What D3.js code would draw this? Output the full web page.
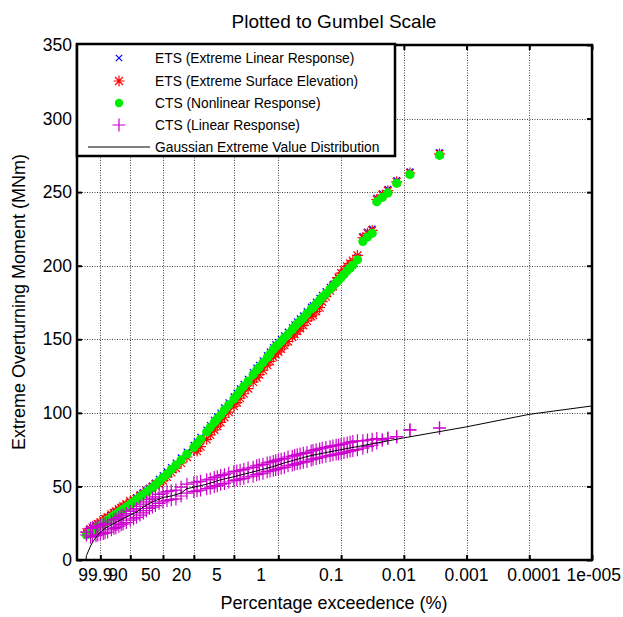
<!DOCTYPE html>
<html>
<head>
<meta charset="utf-8">
<script src="https://cdn.jsdelivr.net/npm/d3@7"></script>
<style>
  body { margin: 0; background: #fff; }
  svg { display: block; font-family: "Liberation Sans", Arial, sans-serif; }
</style>
</head>
<body>
<div id="chart"></div>
<script>
// exceedance probability (%) of the ranked samples, shared by the sample series
var exceedPct = [99.999, 99.995, 99.99, 99.97, 99.95, 99.9, 99.8, 99.7, 99.5, 99,
  98.5, 98, 97, 96, 95, 93, 90, 87, 84, 80,
  76, 72, 68, 64, 60, 55, 50, 45, 40, 35,
  30, 25, 20, 18, 16, 13, 11.5, 10, 9, 8,
  7, 6, 5, 4.5, 4, 3.5, 3, 2.5, 2.2, 2,
  1.75, 1.5, 1.35, 1.2, 1.1, 1, 0.9, 0.8, 0.7, 0.6,
  0.55, 0.5, 0.45, 0.4, 0.35, 0.3, 0.28, 0.25, 0.22, 0.2,
  0.175, 0.15, 0.135, 0.12, 0.11, 0.1, 0.09, 0.08, 0.072, 0.065,
  0.055, 0.045, 0.038, 0.032, 0.027, 0.022, 0.018, 0.013, 0.008, 0.0027];

// overturning moment (MNm)
var etsLinear = [18.5, 20.5, 21.5, 23, 24, 25, 26.5, 27.5, 28.5, 30.5,
  31.5, 32.5, 34, 35, 36, 37.5, 39.5, 41, 42.5, 44.5,
  46, 47.5, 49, 50.5, 52.5, 55, 57.5, 60, 63, 66,
  69.5, 73.5, 78, 80.5, 83.5, 88.5, 91.5, 95, 97.5, 100,
  103.5, 107, 111, 113.5, 116.5, 119.5, 123, 127.5, 130.5, 132.5,
  135.5, 139, 141.5, 144.5, 146.5, 148, 150, 152.5, 155, 158,
  160, 162, 164, 166, 169, 172, 173, 175.5, 178, 180,
  182.5, 185.5, 187.5, 190, 191.5, 193.5, 195.5, 198, 200, 202,
  205.5, 220, 223, 225, 246, 249, 252, 258, 264, 277];

var etsSurface = [19, 21, 22, 23.5, 24.5, 25.5, 27, 28, 29, 31,
  32, 33, 34.5, 35.5, 36.5, 38, 40, 40, 41.5, 43.5,
  45, 46.5, 48, 49.5, 51.5, 51.5, 54, 56.5, 59.5, 62.5,
  66, 70, 74.5, 74, 77, 82, 85, 88.5, 91, 93.5,
  97, 100.5, 104.5, 107, 110, 113, 116.5, 121, 124, 126,
  129, 132.5, 135, 138, 140, 141.5, 143.5, 146, 148.5, 151.5,
  153.5, 155.5, 157.5, 159.5, 162.5, 165.5, 166.5, 169, 171.5, 175.5,
  179, 183, 186, 189.5, 192, 195, 197, 199.5, 201.5, 203.5,
  207, 219, 222, 224, 245, 248, 251, 257, 263, 276];

var ctsNonlinear = [17, 19, 20, 21.5, 22.5, 23.5, 25, 26, 27, 29,
  30, 31, 32.5, 33.5, 34.5, 36, 38, 39.5, 41, 43,
  44.5, 46, 47.5, 49, 51, 53.5, 56, 58.5, 61.5, 64.5,
  68, 72, 76.5, 79, 82, 87, 90, 93.5, 96, 98.5,
  102, 105.5, 109.5, 112, 115, 118, 121.5, 126, 129, 131,
  134, 137.5, 140, 143, 145, 146.5, 148.5, 151, 153.5, 156.5,
  158.5, 160.5, 162.5, 164.5, 167.5, 170.5, 171.5, 174, 176.5, 178.5,
  181, 184, 186, 188.5, 190, 192, 194, 196.5, 198.5, 200.5,
  204, 216.5, 219.5, 222, 243.5, 246.5, 249.5, 256, 262, 275];

// CTS linear response: upper and lower edge of the sample cloud
var ctsLinearA = [19, 21.5, 22, 22.5, 23, 23.5, 24, 24.5, 25, 26.5,
  27.5, 28, 29, 30, 30.5, 31.5, 33, 34, 35, 36.5,
  38, 39.5, 41, 42, 43, 44.5, 45.5, 46.5, 47, 47.5,
  49.5, 51.5, 52.5, 53, 53.5, 54.5, 55, 56, 56.5, 57.5,
  58, 59, 60, 60.5, 61, 61.5, 62.5, 63, 64, 64.5,
  65, 66, 66.5, 67, 67.5, 68, 68.5, 69, 70, 70.5,
  71, 71.5, 72, 72.5, 73, 74, 74.5, 75, 75.5, 76,
  76.5, 77, 77.5, 78, 78, 78.5, 79, 79.5, 80, 80.5,
  81, 81, 81.5, 82, 82.5, 81.6, 82.7, 83.8, 88.4, 89.7];
var ctsLinearB = [17, 15.5, 16, 16.5, 17, 17.5, 18, 18.5, 19, 20.5,
  21.5, 22, 23, 24, 24.5, 25.5, 27, 28, 29, 30.5,
  32, 33.5, 35, 36, 37, 38.5, 39.5, 40.5, 41, 41.5,
  43.5, 45.5, 46.5, 47, 47.5, 48.5, 49, 50, 50.5, 51.5,
  52, 53, 54, 54.5, 55, 55.5, 56.5, 57, 58, 58.5,
  59, 60, 60.5, 61, 61.5, 62, 62.5, 63, 64, 64.5,
  65, 65.5, 66, 66.5, 67, 68, 68.5, 69, 69.5, 70,
  70.5, 71, 71.5, 72, 72, 72.5, 73, 73.5, 74, 74.5,
  75, 76, 77, 78, 79.5, 81.6, 82.7, 83.8, 88.4, 89.7];

// fitted Gaussian extreme value distribution
var gevExceed = [99.9992, 99.999, 99.995, 99.99, 99.97, 99.9, 99.7, 99, 98, 95,
  90, 84, 76, 64, 50, 40, 30, 25, 20, 13,
  8, 5, 3, 2, 1.2, 1, 0.8, 0.5, 0.3, 0.2,
  0.1, 0.01, 0.001, 0.0001, 0.00001];
var gevMoment = [0, 3, 9.5, 12, 15.5, 19, 21.5, 24, 25.5, 28,
  30.5, 32.5, 36, 39.5, 42.5, 43.5, 45.5, 48.5, 49.5, 51.5,
  54.5, 56.6, 59, 61, 63.5, 64.6, 66, 68.5, 71, 72.5,
  75, 83, 90.5, 99, 104.7];

var xTickPct = [99.9, 90, 50, 20, 5, 1, 0.1, 0.01, 0.001, 0.0001, 0.00001];
var xTickLabels = ["99.9", "90", "50", "20", "5", "1", "0.1", "0.01", "0.001", "0.0001", "1e-005"];
var yTicks = [0, 50, 100, 150, 200, 250, 300, 350];

var legendNames = ["ETS (Extreme Linear Response)", "ETS (Extreme Surface Elevation)",
  "CTS (Nonlinear Response)", "CTS (Linear Response)", "Gaussian Extreme Value Distribution"];

var width = 623, height = 617;
var margin = {top: 45, right: 31, bottom: 57, left: 77};

// Gumbel reduced variate for an exceedance percentage
function gumbel(p) { return -Math.log(-Math.log(1 - p / 100)); }

var x = d3.scaleLinear()
  .domain([-2.79, gumbel(0.00001)])
  .range([margin.left, width - margin.right]);
var y = d3.scaleLinear()
  .domain([0, 350])
  .range([height - margin.bottom, margin.top]);

var svg = d3.select('#chart').append('svg')
  .attr('width', width)
  .attr('height', height);

svg.append('defs').append('clipPath').attr('id', 'plotclip')
  .append('rect')
  .attr('x', margin.left).attr('y', margin.top)
  .attr('width', width - margin.left - margin.right)
  .attr('height', height - margin.top - margin.bottom);

// dotted grid
var grid = svg.append('g')
  .attr('stroke', '#444')
  .attr('stroke-width', 1)
  .attr('stroke-dasharray', '1,1.5');
grid.selectAll('.vg')
  .data(xTickPct)
  .enter().append('line')
  .attr('x1', function (d) { return Math.round(x(gumbel(d))) + 0.5; })
  .attr('x2', function (d) { return Math.round(x(gumbel(d))) + 0.5; })
  .attr('y1', margin.top)
  .attr('y2', height - margin.bottom);
grid.selectAll('.hg')
  .data(yTicks.slice(1, -1))
  .enter().append('line')
  .attr('x1', margin.left)
  .attr('x2', width - margin.right)
  .attr('y1', function (d) { return Math.round(y(d)) + 0.5; })
  .attr('y2', function (d) { return Math.round(y(d)) + 0.5; });

// marker shapes
function plusPath(s) { return 'M' + (-s) + ',0H' + s + 'M0,' + (-s) + 'V' + s; }
function timesPath(s) { return 'M' + (-s) + ',' + (-s) + 'L' + s + ',' + s + 'M' + (-s) + ',' + s + 'L' + s + ',' + (-s); }
function starPath(s) { var d = s * 0.72; return plusPath(s) + timesPath(d); }

var series = [
  {name: legendNames[0], runs: [etsLinear], color: '#0000ff', shape: timesPath(3.2)},
  {name: legendNames[1], runs: [etsSurface], color: '#ff0000', shape: starPath(5.5)},
  {name: legendNames[2], runs: [ctsNonlinear], color: '#00ee00', dot: 4.6},
  {name: legendNames[3], runs: [ctsLinearA, ctsLinearB], color: '#cc00cc', shape: plusPath(6.5)}
];

var plot = svg.append('g').attr('clip-path', 'url(#plotclip)');

series.forEach(function (s) {
  var pts = [];
  s.runs.forEach(function (run) {
    exceedPct.forEach(function (p, i) { pts.push({p: p, v: run[i]}); });
  });
  var g = plot.append('g');
  if (s.dot) {
    g.selectAll('circle')
      .data(pts)
      .enter().append('circle')
      .attr('cx', function (d) { return x(gumbel(d.p)); })
      .attr('cy', function (d) { return y(d.v); })
      .attr('r', s.dot)
      .attr('fill', s.color);
  } else {
    g.selectAll('path')
      .data(pts)
      .enter().append('path')
      .attr('d', s.shape)
      .attr('transform', function (d) { return 'translate(' + x(gumbel(d.p)) + ',' + y(d.v) + ')'; })
      .attr('fill', 'none')
      .attr('stroke', s.color)
      .attr('stroke-width', 1.2);
  }
});

var gevLine = d3.line()
  .x(function (d) { return x(gumbel(d[0])); })
  .y(function (d) { return y(d[1]); });
plot.append('path')
  .datum(gevExceed.map(function (p, i) { return [p, gevMoment[i]]; }))
  .attr('d', gevLine)
  .attr('fill', 'none')
  .attr('stroke', '#000')
  .attr('stroke-width', 1);

// axes with inward ticks
var xVals = xTickPct.map(gumbel);
var xAxis = svg.append('g')
  .attr('transform', 'translate(0,' + (height - margin.bottom) + ')')
  .call(d3.axisBottom(x).tickValues(xVals)
    .tickFormat(function (d, i) { return xTickLabels[i]; })
    .tickSizeInner(-5).tickSizeOuter(0).tickPadding(9));
// labels sit to the left of their ticks, as in the source figure
var nTicks = xTickPct.length;
xAxis.selectAll('.tick text')
  .attr('text-anchor', 'start')
  .attr('x', function (d, i) { return i === nTicks - 1 ? -26 : -22.5; });

var xTop = svg.append('g')
  .attr('transform', 'translate(0,' + margin.top + ')')
  .call(d3.axisTop(x).tickValues(xVals).tickFormat('').tickSizeInner(-5).tickSizeOuter(0));
var yAxis = svg.append('g')
  .attr('transform', 'translate(' + margin.left + ',0)')
  .call(d3.axisLeft(y).tickValues(yTicks).tickFormat(d3.format('d'))
    .tickSizeInner(-5).tickSizeOuter(0).tickPadding(5));
var yRight = svg.append('g')
  .attr('transform', 'translate(' + (width - margin.right) + ',0)')
  .call(d3.axisRight(y).tickValues(yTicks).tickFormat('').tickSizeInner(-5).tickSizeOuter(0));

[xAxis, xTop, yAxis, yRight].forEach(function (a) {
  a.select('.domain').remove();
  a.selectAll('.tick line').attr('stroke', '#000').attr('stroke-width', 2);
  a.selectAll('text')
    .attr('fill', '#000')
    .style('font-family', '"Liberation Sans", Arial, sans-serif')
    .style('font-size', '17.5px');
});

// plot box
svg.append('rect')
  .attr('x', margin.left).attr('y', margin.top)
  .attr('width', width - margin.left - margin.right)
  .attr('height', height - margin.top - margin.bottom)
  .attr('fill', 'none')
  .attr('stroke', '#000')
  .attr('stroke-width', 2.5);

// title and axis labels
svg.append('text')
  .attr('x', 334).attr('y', 28)
  .attr('text-anchor', 'middle')
  .style('font-size', '19px')
  .text('Plotted to Gumbel Scale');
svg.append('text')
  .attr('x', 334).attr('y', 609)
  .attr('text-anchor', 'middle')
  .style('font-size', '18px')
  .text('Percentage exceedence (%)');
svg.append('text')
  .attr('transform', 'translate(25,302) rotate(-90)')
  .attr('text-anchor', 'middle')
  .style('font-size', '18px')
  .text('Extreme Overturning Moment (MNm)');

// legend
var legend = svg.append('g');
legend.append('rect')
  .attr('x', 77).attr('y', 44)
  .attr('width', 318).attr('height', 112)
  .attr('fill', '#fff')
  .attr('stroke', '#000')
  .attr('stroke-width', 2.5);
var rowY = [58, 81, 103, 125, 147];
series.forEach(function (s, i) {
  if (s.dot) {
    legend.append('circle').attr('cx', 119).attr('cy', rowY[i]).attr('r', 4.2).attr('fill', s.color);
  } else {
    legend.append('path').attr('d', s.shape)
      .attr('transform', 'translate(119,' + rowY[i] + ')')
      .attr('fill', 'none').attr('stroke', s.color).attr('stroke-width', 1.2);
  }
});
legend.append('line')
  .attr('x1', 88).attr('x2', 150)
  .attr('y1', rowY[4]).attr('y2', rowY[4])
  .attr('stroke', '#000').attr('stroke-width', 1);
legend.selectAll('.lt')
  .data(legendNames)
  .enter().append('text')
  .attr('x', 155)
  .attr('y', function (d, i) { return rowY[i]; })
  .attr('dy', '0.36em')
  .style('font-size', '13.8px')
  .text(function (d) { return d; });
</script>
</body>
</html>
